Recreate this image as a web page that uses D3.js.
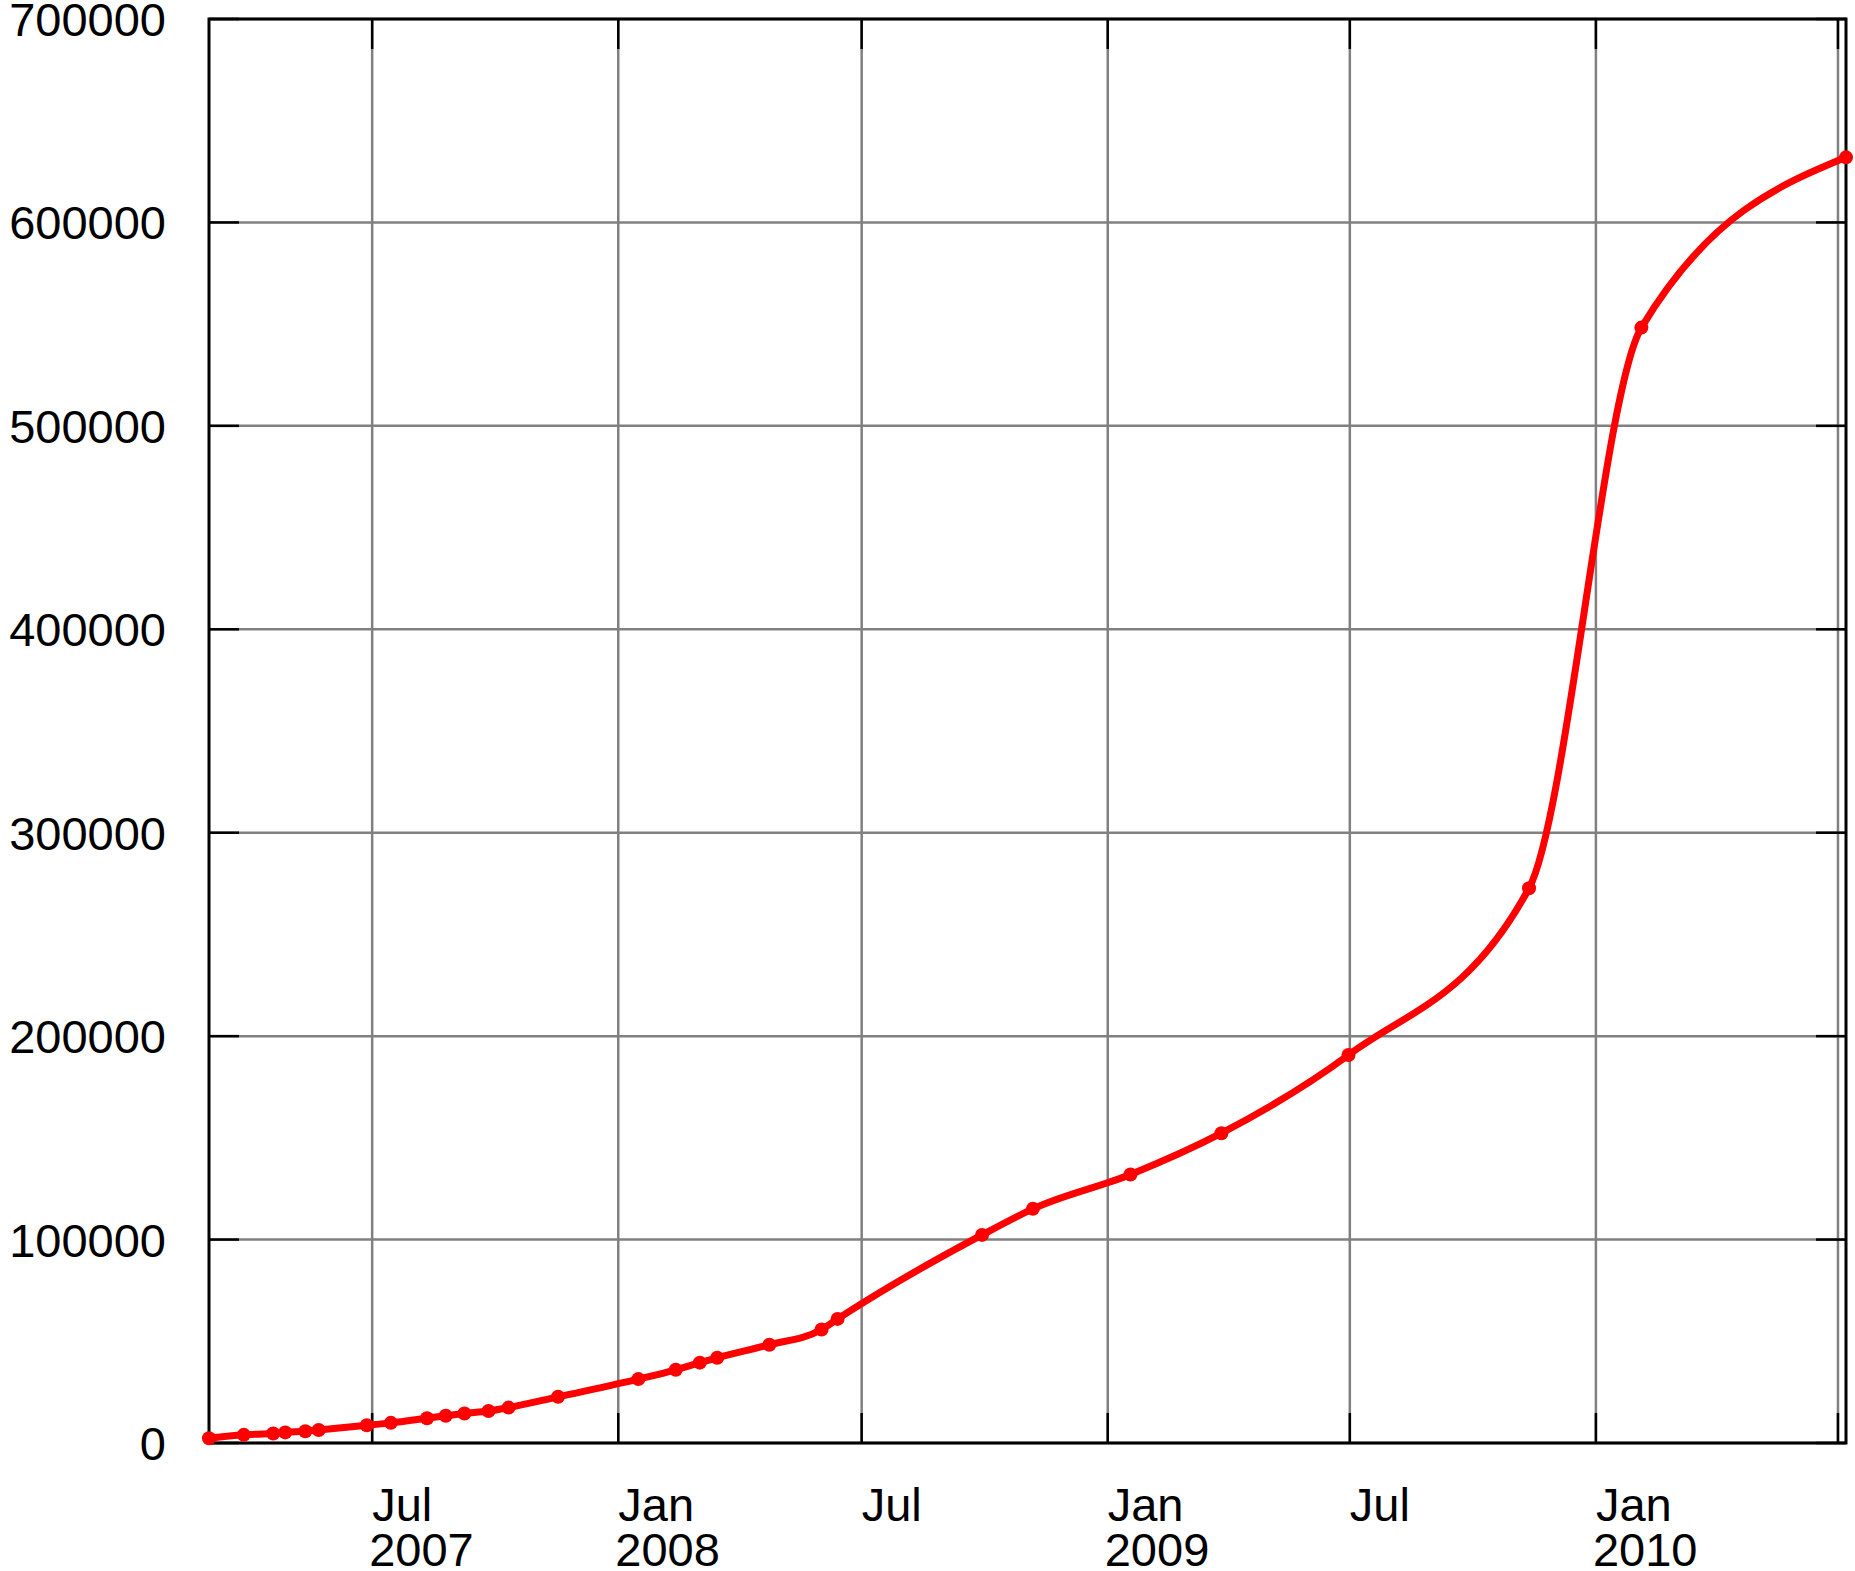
<!DOCTYPE html>
<html>
<head>
<meta charset="utf-8">
<script src="https://cdn.jsdelivr.net/npm/d3@7"></script>
<style>
body { margin: 0; background: #fff; }
text { font-family: "Liberation Sans", Arial, sans-serif; font-size: 47px; fill: #000; }
</style>
</head>
<body>
<svg id="chart" width="1855" height="1571"></svg>
<script>
// dates and counts
var dates = ["2007-03-01","2007-03-27","2007-04-18","2007-04-27","2007-05-12","2007-05-22",
    "2007-06-27","2007-07-15","2007-08-11","2007-08-25","2007-09-08","2007-09-26","2007-10-11",
    "2007-11-17","2008-01-16","2008-02-13","2008-03-02","2008-03-15","2008-04-23","2008-06-01",
    "2008-06-13","2008-09-29","2008-11-06","2009-01-18","2009-03-27","2009-06-30","2009-11-12",
    "2010-02-04","2010-07-07"];
var counts = [2300,4000,4700,5200,5800,6400,8700,9900,12200,13400,14500,15700,17400,
    22700,31400,36000,39500,41900,48300,55800,61000,102300,115100,132000,152300,190700,272700,
    548300,632000];
var yTicks = [0,100000,200000,300000,400000,500000,600000,700000];
var xTickDates = ["2007-07-01","2008-01-01","2008-07-01","2009-01-01","2009-07-01","2010-01-01","2010-07-01"];
var xTickLabels = [["Jul","2007"],["Jan","2008"],["Jul",""],["Jan","2009"],["Jul",""],["Jan","2010"],["",""]];

(function () {
var parse = d3.timeParse("%Y-%m-%d");
var data = dates.map(function (d, i) { return {date: parse(d), value: counts[i]}; });

var pLeft = 209, pRight = 1846, pTop = 19, pBottom = 1443;
var svg = d3.select("#chart");

var x = d3.scaleTime()
    .domain([parse("2007-03-01"), parse("2010-07-07")])
    .range([pLeft, pRight]);
var y = d3.scaleLinear().domain([0, 700000]).range([pBottom, pTop]);

// grid
svg.selectAll(".hgrid").data(yTicks).enter().append("line")
    .attr("x1", pLeft).attr("x2", pRight)
    .attr("y1", function (d) { return y(d); }).attr("y2", function (d) { return y(d); })
    .attr("stroke", "#808080").attr("stroke-width", 2.5);
svg.selectAll(".vgrid").data(xTickDates).enter().append("line")
    .attr("x1", function (d) { return x(parse(d)); }).attr("x2", function (d) { return x(parse(d)); })
    .attr("y1", pTop).attr("y2", pBottom)
    .attr("stroke", "#808080").attr("stroke-width", 2.5);

// inward ticks
var tl = 30;
yTicks.forEach(function (d) {
    svg.append("line").attr("x1", pLeft).attr("x2", pLeft + tl).attr("y1", y(d)).attr("y2", y(d))
        .attr("stroke", "#000").attr("stroke-width", 2.5);
    svg.append("line").attr("x1", pRight - tl).attr("x2", pRight).attr("y1", y(d)).attr("y2", y(d))
        .attr("stroke", "#000").attr("stroke-width", 2.5);
    svg.append("text").attr("x", 166).attr("y", y(d) + 17)
        .attr("text-anchor", "end").text(d);
});
xTickDates.forEach(function (d, i) {
    var xx = x(parse(d));
    svg.append("line").attr("x1", xx).attr("x2", xx).attr("y1", pTop).attr("y2", pTop + tl)
        .attr("stroke", "#000").attr("stroke-width", 2.5);
    svg.append("line").attr("x1", xx).attr("x2", xx).attr("y1", pBottom - tl).attr("y2", pBottom)
        .attr("stroke", "#000").attr("stroke-width", 2.5);
    svg.append("text").attr("x", xx).attr("y", 1521).text(xTickLabels[i][0]);
    svg.append("text").attr("x", xx - 3).attr("y", 1566).text(xTickLabels[i][1]);
});

// frame
svg.append("rect").attr("x", pLeft).attr("y", pTop)
    .attr("width", pRight - pLeft).attr("height", pBottom - pTop)
    .attr("fill", "none").attr("stroke", "#000").attr("stroke-width", 3);

// series
var line = d3.line()
    .x(function (d) { return x(d.date); })
    .y(function (d) { return y(d.value); })
    .curve(d3.curveMonotoneX);

svg.append("path").datum(data).attr("d", line)
    .attr("fill", "none").attr("stroke", "#ff0000").attr("stroke-width", 7)
    .attr("stroke-linejoin", "round");

svg.selectAll(".pt").data(data).enter().append("circle")
    .attr("cx", function (d) { return x(d.date); })
    .attr("cy", function (d) { return y(d.value); })
    .attr("r", 7).attr("fill", "#ff0000");
})();
</script>
</body>
</html>
